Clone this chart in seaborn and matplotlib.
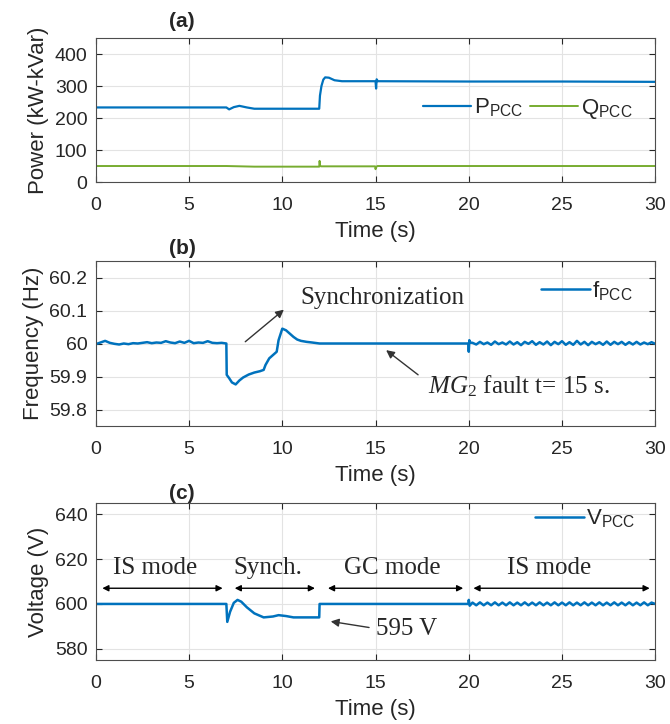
import numpy as np
import pandas as pd
import matplotlib
matplotlib.use("Agg")
import matplotlib.pyplot as plt
import seaborn as sns

# ---- data ----
# (a) active / reactive power at PCC
t_p = [0, 7.0, 7.15, 7.4, 7.7, 8.1, 8.5, 11.98, 12.02, 12.1, 12.2, 12.3, 12.5, 12.8, 13.2,
       15.0, 15.03, 15.06, 15.12, 20, 25, 30]
p_pcc = [233, 233, 227, 234, 238, 233, 229, 229, 270, 300, 320, 327, 326, 318, 315,
         315, 292, 321, 315, 314, 314, 313]
t_q = [0, 7, 8.5, 11.98, 12.0, 12.03, 12.08, 14.98, 15.0, 15.04, 15.1, 30]
q_pcc = [50, 50, 48, 48, 66, 50, 49, 49, 40, 47, 50, 50]

# (b) frequency at PCC
t_f = [0, 0.25, 0.5, 0.75, 1.0, 1.25, 1.5, 1.75, 2.0, 2.25, 2.5, 2.75, 3.0, 3.25, 3.5, 3.75,
       4.0, 4.25, 4.5, 4.75, 5.0, 5.25, 5.5, 5.75, 6.0, 6.25, 6.5, 6.75, 7.0,
       7.02, 7.15, 7.3, 7.5, 7.7, 7.9, 8.2, 8.5, 8.8, 9.0, 9.1, 9.3, 9.5, 9.7, 9.8, 10.0,
       10.2, 10.4, 10.6, 10.8, 11.0, 11.3, 11.6, 12.0,
       15.0, 19.98, 20.0, 20.03, 20.06,
       20.2, 20.4, 20.6, 20.8, 21.0, 21.2, 21.4, 21.6, 21.8, 22.0, 22.2, 22.4, 22.6, 22.8,
       23.0, 23.2, 23.4, 23.6, 23.8, 24.0, 24.2, 24.4, 24.6, 24.8, 25.0, 25.2, 25.4, 25.6,
       25.8, 26.0, 26.2, 26.4, 26.6, 26.8, 27.0, 27.2, 27.4, 27.6, 27.8, 28.0, 28.2, 28.4,
       28.6, 28.8, 29.0, 29.2, 29.4, 29.6, 29.8, 30.0]
f_pcc = [59.998, 60.003, 60.008, 60.002, 59.999, 59.997, 60.000, 59.998, 60.001, 60.000,
         60.002, 60.004, 60.001, 60.003, 60.002, 60.007, 60.003, 60.001, 60.006, 60.002,
         60.008, 60.001, 60.003, 60.002, 60.007, 60.002, 60.001, 60.002, 60.000,
         59.905, 59.895, 59.882, 59.876, 59.888, 59.897, 59.906, 59.912, 59.916, 59.920,
         59.935, 59.955, 59.965, 59.975, 60.010, 60.045,
         60.040, 60.030, 60.020, 60.012, 60.008, 60.005, 60.003, 60.000,
         60.000, 60.000, 59.975, 60.010, 60.003,
         60.002, 59.997, 60.005, 59.998, 60.003, 59.996, 60.006, 59.998, 60.003, 59.997,
         60.006, 59.997, 60.004, 59.995, 60.005, 59.999, 60.007, 59.996, 60.004, 59.997,
         60.006, 59.995, 60.005, 59.998, 60.007, 59.996, 60.004, 59.996, 60.008, 59.997,
         60.005, 59.995, 60.005, 59.998, 60.004, 59.996, 60.006, 59.996, 60.005, 59.998,
         60.005, 59.996, 60.004, 59.997, 60.005, 59.997, 60.003, 59.998, 60.004, 59.999]

# (c) voltage at PCC
t_v = [0, 3.5, 7.0, 7.05, 7.2, 7.4, 7.6, 7.8, 8.1, 8.5, 9.0, 9.5, 9.8, 10.2, 10.6, 11.98,
       12.0, 19.98, 20.0, 20.05,
       20.2, 20.4, 20.6, 20.8, 21.0, 21.2, 21.4, 21.6, 21.8, 22.0, 22.2, 22.4, 22.6, 22.8,
       23.0, 23.2, 23.4, 23.6, 23.8, 24.0, 24.2, 24.4, 24.6, 24.8, 25.0, 25.2, 25.4, 25.6,
       25.8, 26.0, 26.2, 26.4, 26.6, 26.8, 27.0, 27.2, 27.4, 27.6, 27.8, 28.0, 28.2, 28.4,
       28.6, 28.8, 29.0, 29.2, 29.4, 29.6, 29.8, 30.0]
v_pcc = [600.0, 600.0, 600.0, 592.0, 596.5, 600.5, 601.8, 601.0, 598.5, 595.8, 594.0, 594.4,
         595.0, 594.6, 594.0, 594.0,
         600.0, 600.0, 601.8, 599.2,
         600.6, 599.4, 600.7, 599.4, 600.6, 599.4, 600.7, 599.4, 600.6, 599.4, 600.7, 599.4,
         600.6, 599.4, 600.7, 599.4, 600.6, 599.4, 600.7, 599.4, 600.6, 599.4, 600.7, 599.4,
         600.6, 599.4, 600.7, 599.4, 600.6, 599.4, 600.7, 599.4, 600.6, 599.4, 600.7, 599.4,
         600.6, 599.4, 600.7, 599.4, 600.6, 599.4, 600.7, 599.4, 600.6, 599.4, 600.7, 599.4,
         600.6, 600.0]

x_ticks = [0, 5, 10, 15, 20, 25, 30]
mode_names = ["IS mode", "Synch.", "GC mode", "IS mode"]
mode_spans = [(0.2, 6.95), (7.3, 11.9), (12.3, 19.85), (20.1, 29.85)]
mode_text_x = [3.2, 9.2, 15.9, 24.3]

BLUE = "#0072BD"
GREEN = "#77AC30"

sns.set_style("whitegrid")
plt.rcParams["font.family"] = ["Liberation Sans", "DejaVu Sans"]
plt.rcParams["mathtext.fontset"] = "custom"
plt.rcParams["mathtext.rm"] = "Liberation Serif"
plt.rcParams["mathtext.it"] = "Liberation Serif:italic"

fig = plt.figure(figsize=(6.70, 7.24), dpi=100)
ax_a = fig.add_axes([0.143, 0.7486, 0.835, 0.1989])
ax_b = fig.add_axes([0.143, 0.4116, 0.835, 0.2279])
ax_c = fig.add_axes([0.143, 0.0884, 0.835, 0.2168])

df_p = pd.DataFrame({"t": t_p, "v": p_pcc})
df_q = pd.DataFrame({"t": t_q, "v": q_pcc})
sns.lineplot(data=df_p, x="t", y="v", ax=ax_a, color=BLUE, lw=1.6, sort=False, estimator=None,
             label=r"$\mathregular{P_{PCC}}$")
sns.lineplot(data=df_q, x="t", y="v", ax=ax_a, color=GREEN, lw=1.4, sort=False, estimator=None,
             label=r"$\mathregular{Q_{PCC}}$")

df_f = pd.DataFrame({"t": t_f, "v": f_pcc})
sns.lineplot(data=df_f, x="t", y="v", ax=ax_b, color=BLUE, lw=1.8, sort=False, estimator=None,
             label=r"$\mathregular{f_{PCC}}$")

df_v = pd.DataFrame({"t": t_v, "v": v_pcc})
sns.lineplot(data=df_v, x="t", y="v", ax=ax_c, color=BLUE, lw=1.8, sort=False, estimator=None,
             label=r"$\mathregular{V_{PCC}}$")

def style(ax, ylim, yticks, ylabel, tag, ty):
    ax.set_xlim(0, 30)
    ax.set_ylim(*ylim)
    ax.set_xticks(x_ticks)
    ax.set_yticks(yticks)
    ax.set_xlabel("Time (s)", fontsize=16, labelpad=5)
    ax.set_ylabel(ylabel, fontsize=16, labelpad=4)
    ax.tick_params(labelsize=14, direction="in", length=4, color="#262626",
                   top=True, right=True, bottom=True, left=True)
    ax.tick_params(axis="x", pad=11)
    ax.tick_params(axis="y", pad=6)
    ax.grid(True, color="#e3e3e3", lw=0.8)
    for s in ax.spines.values():
        s.set_color("#4d4d4d")
        s.set_linewidth(0.8)
    ax.text(0.154, ty, tag, transform=ax.transAxes, ha="center", va="bottom",
            fontsize=15, fontweight="bold")

style(ax_a, (0, 450), [0, 100, 200, 300, 400], "Power (kW-kVar)", "(a)", 1.05)
style(ax_b, (59.75, 60.25), [59.8, 59.9, 60.0, 60.1, 60.2], "Frequency (Hz)", "(b)", 1.02)
ax_b.set_yticklabels(["59.8", "59.9", "60", "60.1", "60.2"])
style(ax_c, (575, 645), [580, 600, 620, 640], "Voltage (V)", "(c)", 1.0)

leg_kw = dict(frameon=False, fontsize=16, handlelength=2.2, handletextpad=0.1,
              borderaxespad=0, loc="center right")
ax_a.legend(ncol=2, columnspacing=0.3, bbox_to_anchor=(0.975, 0.51), **leg_kw)
ax_b.legend(bbox_to_anchor=(0.975, 0.82), **leg_kw)
ax_c.legend(bbox_to_anchor=(0.98, 0.9), **leg_kw)

serif = dict(family="Liberation Serif", fontsize=18)
arr = dict(arrowstyle="-|>", color="#333333", lw=1.0, mutation_scale=12)

ax_b.annotate("", xy=(10.2, 60.108), xytext=(7.9, 60.0), arrowprops=arr)
ax_b.text(10.95, 60.138, "Synchronization", va="center", ha="left", **serif)
ax_b.annotate("", xy=(15.45, 59.985), xytext=(17.4, 59.9), arrowprops=arr)
ax_b.text(17.8, 59.872, r"$MG_2$ fault t= 15 s.", va="center", ha="left", **serif)

for name, (a, b), xt in zip(mode_names, mode_spans, mode_text_x):
    ax_c.annotate("", xy=(a, 607), xytext=(b, 607),
                  arrowprops=dict(arrowstyle="<|-|>", color="black", lw=1.0, mutation_scale=9))
    ax_c.text(xt, 616, name, ha="center", va="center", **serif)
ax_c.annotate("", xy=(12.45, 592.4), xytext=(14.8, 589.3), arrowprops=arr)
ax_c.text(15.05, 589.0, "595 V", va="center", ha="left", **serif)

fig.savefig("out.png", dpi=100)
